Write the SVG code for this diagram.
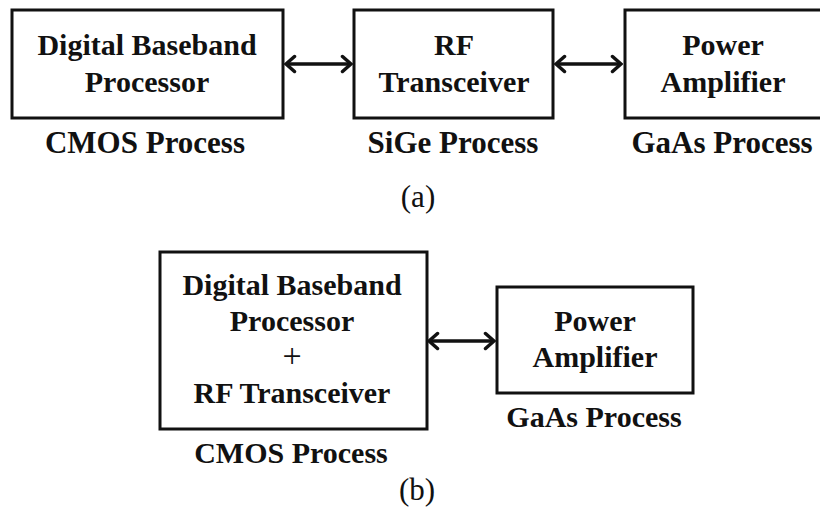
<svg xmlns="http://www.w3.org/2000/svg" width="820" height="518" viewBox="0 0 820 518">
<defs>
<style>
.box{fill:#fff;stroke:#111;stroke-width:3}
.t{font-family:"Liberation Serif","Times New Roman",serif;font-weight:bold;font-size:30px;fill:#111;text-anchor:middle}
.lbl{font-family:"Liberation Serif","Times New Roman",serif;font-weight:bold;font-size:31px;fill:#111;text-anchor:middle}
.cap{font-family:"Liberation Serif","Times New Roman",serif;font-size:31px;fill:#111;text-anchor:middle}
.plus{font-family:"Liberation Serif","Times New Roman",serif;font-size:34px;fill:#111;text-anchor:middle}
.conn{stroke:#111;stroke-width:3.5;fill:none;marker-start:url(#chev);marker-end:url(#chev)}
</style>
<marker id="chev" markerUnits="userSpaceOnUse" viewBox="-14 -11 16 22" markerWidth="16" markerHeight="22" refX="0" refY="0" orient="auto-start-reverse">
<path d="M-8.5,-7.5 L0,0 L-8.5,7.5" fill="none" stroke="#111" stroke-width="3.5" stroke-linecap="round" stroke-linejoin="miter"/>
</marker>
</defs>
<rect width="820" height="518" fill="#fff"/>
<g id="connectors">
<line class="conn" x1="286" y1="64" x2="351" y2="64"/>
<line class="conn" x1="556" y1="64" x2="621" y2="64"/>
<line class="conn" x1="429" y1="341" x2="494" y2="341"/>
</g>
<g id="a-dbp">
<rect class="box" x="12" y="10" width="271" height="108"/>
<text class="t" x="147" y="55">Digital Baseband</text>
<text class="t" x="147" y="92">Processor</text>
<text class="lbl" x="145" y="153">CMOS Process</text>
</g>
<g id="a-rf">
<rect class="box" x="354" y="10" width="199" height="108"/>
<text class="t" x="454" y="55">RF</text>
<text class="t" x="454" y="92">Transceiver</text>
<text class="lbl" x="453" y="153">SiGe Process</text>
</g>
<g id="a-pa">
<rect class="box" x="625" y="10" width="198" height="108"/>
<text class="t" x="723" y="55">Power</text>
<text class="t" x="723" y="92">Amplifier</text>
<text class="lbl" x="722" y="153">GaAs Process</text>
</g>
<text class="cap" x="418" y="207">(a)</text>
<g id="b-soc">
<rect class="box" x="160" y="252" width="267" height="177"/>
<text class="t" x="292" y="295">Digital Baseband</text>
<text class="t" x="292" y="331">Processor</text>
<text class="plus" x="292" y="367">+</text>
<text class="t" x="292" y="403">RF Transceiver</text>
<text class="t" x="291" y="463">CMOS Process</text>
</g>
<g id="b-pa">
<rect class="box" x="497" y="287" width="196" height="106"/>
<text class="t" x="595" y="331">Power</text>
<text class="t" x="595" y="367">Amplifier</text>
<text class="t" x="594" y="427">GaAs Process</text>
</g>
<text class="cap" x="417" y="500">(b)</text>
</svg>
